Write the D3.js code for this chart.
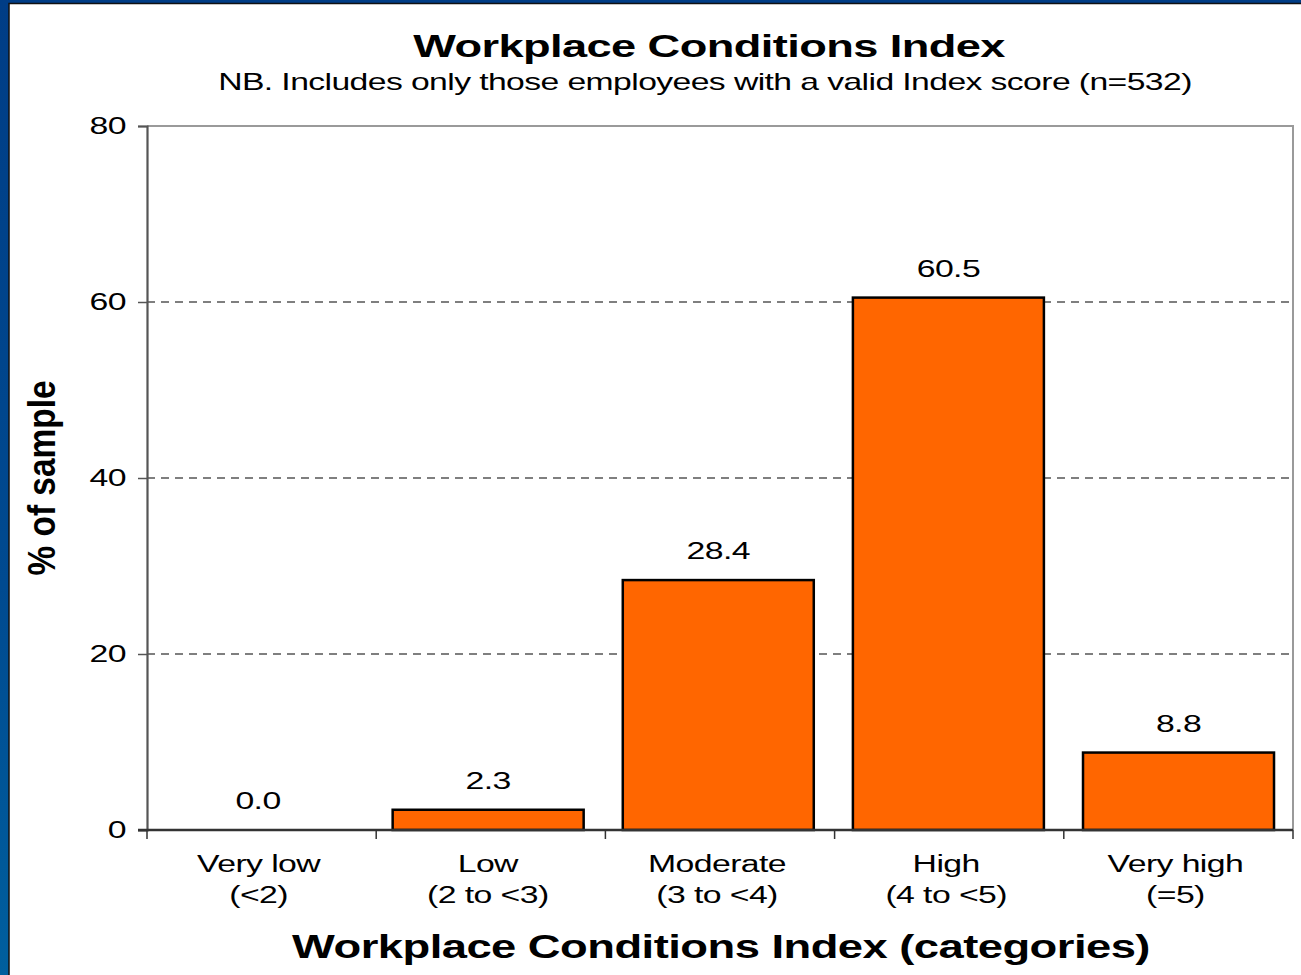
<!DOCTYPE html>
<html>
<head>
<meta charset="utf-8">
<script src="https://cdn.jsdelivr.net/npm/d3@7"></script>
<style>
  html, body { margin: 0; padding: 0; background: #fff; }
  svg { display: block; }
  text { font-family: "Liberation Sans", Arial, sans-serif; fill: #000; }
</style>
</head>
<body>
<svg id="chart" width="1301" height="975"></svg>
<script>
// Workplace Conditions Index: share of employees in each score band
const categories = ["Very low", "Low", "Moderate", "High", "Very high"];
const ranges = ["(<2)", "(2 to <3)", "(3 to <4)", "(4 to <5)", "(=5)"];
const percentages = [0.0, 2.3, 28.4, 60.5, 8.8];
const yTicks = [0, 20, 40, 60, 80];

const W = 1301, H = 975;
const svg = d3.select("#chart");

// Lettering is set wide: glyphs are stretched horizontally
const STRETCH = 1.47;

// Draws a horizontally stretched label anchored at (x, y).
// Either a fixed stretch factor or a target overall width may be given.
function wideText(parent, x, y, str, { size = 23, weight = "normal", anchor = "middle", sx = STRETCH, width = null } = {}) {
  const g = parent.append("g").attr("transform", `translate(${x},${y})`);
  const t = g.append("text")
    .attr("text-anchor", anchor)
    .attr("font-size", size)
    .attr("font-weight", weight)
    .attr("letter-spacing", -0.4)
    .text(str);
  const k = width ? width / t.node().getComputedTextLength() : sx;
  t.attr("transform", `scale(${k},1)`);
  return t;
}

// Slide-style blue frame behind the white chart panel
const defs = svg.append("defs");
const grad = defs.append("linearGradient").attr("id", "frame")
  .attr("x1", "0").attr("y1", "0").attr("x2", "0").attr("y2", "1");
grad.append("stop").attr("offset", "0").attr("stop-color", "#003d86");
grad.append("stop").attr("offset", "0.6").attr("stop-color", "#004a90");
grad.append("stop").attr("offset", "1").attr("stop-color", "#005f9e");
svg.append("rect").attr("width", W).attr("height", H).attr("fill", "url(#frame)");
svg.append("rect").attr("x", 9).attr("y", 3.5).attr("width", W).attr("height", H)
  .attr("fill", "#fff").attr("stroke", "#111").attr("stroke-width", 1.5);

const plot = { left: 147, top: 126, right: 1293, bottom: 830 };

const x = d3.scaleBand().domain(categories)
  .range([plot.left, plot.right]).paddingInner(0.17).paddingOuter(0.075).align(0.45);
const y = d3.scaleLinear().domain([0, 80]).range([plot.bottom, plot.top]);
// Category slots (for the tick marks and label centres)
const slot = d3.scaleBand().domain(categories).range([plot.left, plot.right]);

// Plot frame (top and right sides)
svg.append("path")
  .attr("d", `M${plot.left},${plot.top}H${plot.right}V${plot.bottom}`)
  .attr("fill", "none").attr("stroke", "#9a9a9a").attr("stroke-width", 2);

// Dashed gridlines
svg.append("g").selectAll("line")
  .data(yTicks.filter(t => t > 0 && t < 80))
  .join("line")
  .attr("x1", plot.left).attr("x2", plot.right)
  .attr("y1", d => y(d)).attr("y2", d => y(d))
  .attr("stroke", "#555").attr("stroke-width", 1.3)
  .attr("stroke-dasharray", "8,6");

const rows = categories.map((c, i) => ({ c, v: percentages[i], r: ranges[i] }));

// Bars
svg.append("g").selectAll("rect")
  .data(rows.filter(d => d.v > 0))
  .join("rect")
  .attr("x", d => x(d.c))
  .attr("y", d => y(d.v))
  .attr("width", x.bandwidth())
  .attr("height", d => y(0) - y(d.v))
  .attr("fill", "#ff6600").attr("stroke", "#000").attr("stroke-width", 2.5);

// Value labels
const valueLabels = svg.append("g");
rows.forEach(d => {
  wideText(valueLabels, x(d.c) + x.bandwidth() / 2, y(d.v) - 21, d.v.toFixed(1));
});

// Y axis
const yAxis = svg.append("g")
  .attr("transform", `translate(${plot.left},0)`)
  .call(d3.axisLeft(y).tickValues(yTicks).tickSize(9).tickFormat(""));
yAxis.select(".domain").attr("stroke", "#555").attr("stroke-width", 2.2);
yAxis.selectAll(".tick line").attr("stroke", "#555").attr("stroke-width", 1.5);
const yLabels = svg.append("g");
yTicks.forEach(t => {
  wideText(yLabels, plot.left - 21, y(t) + 8, d3.format("d")(t), { anchor: "end" });
});

// X axis: ticks sit on the category boundaries
const boundaries = categories.map(c => slot(c)).concat([plot.right]);
const xAxisG = svg.append("g");
xAxisG.append("line")
  .attr("x1", plot.left - 9).attr("x2", plot.right)
  .attr("y1", plot.bottom).attr("y2", plot.bottom)
  .attr("stroke", "#333").attr("stroke-width", 2.5);
xAxisG.selectAll("line.tk").data(boundaries).join("line").attr("class", "tk")
  .attr("x1", d => d).attr("x2", d => d)
  .attr("y1", plot.bottom).attr("y2", plot.bottom + 9)
  .attr("stroke", "#333").attr("stroke-width", 1.5);

const catLabels = svg.append("g");
rows.forEach(d => {
  const cx = slot(d.c) + slot.bandwidth() / 2 - 3;
  wideText(catLabels, cx, 872, d.c);
  wideText(catLabels, cx, 903, d.r);
});

// Titles
const titles = svg.append("g");
wideText(titles, 709, 57, "Workplace Conditions Index", { size: 31, weight: "bold", width: 592 });
wideText(titles, 705, 90, "NB. Includes only those employees with a valid Index score (n=532)", { size: 23, width: 974 });
wideText(titles, 721, 958, "Workplace Conditions Index (categories)", { size: 34, weight: "bold", width: 858 });

svg.append("text")
  .attr("transform", `translate(55,478) scale(${STRETCH},1) rotate(-90)`)
  .attr("text-anchor", "middle")
  .attr("font-size", 26).attr("font-weight", "bold")
  .text("% of sample")
  .attr("textLength", 195).attr("lengthAdjust", "spacingAndGlyphs");
</script>
</body>
</html>
